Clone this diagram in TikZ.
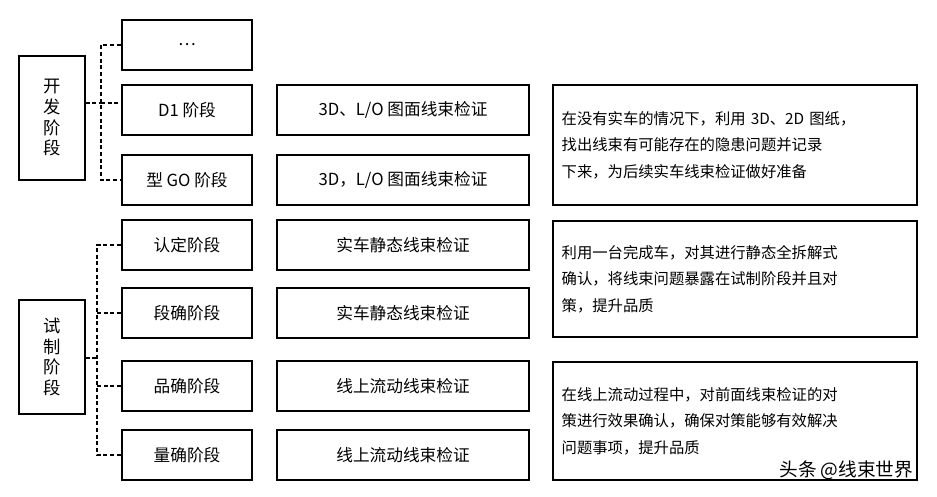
\documentclass[tikz,border=0pt]{standalone}
\usepackage{fontspec}
\setmainfont{Noto Sans CJK SC}
\begin{document}
\begin{tikzpicture}[x=0.75pt,y=-0.75pt,
  bx/.style={draw,line width=1.6pt,minimum height=37pt,inner sep=2pt,font=\fontsize{12.5}{14}\selectfont},
  mid/.style={bx,minimum width=98pt},
  col/.style={bx,minimum width=189pt},
  side/.style={draw,line width=1.6pt,minimum width=49pt,align=center,font=\fontsize{13}{15.5}\selectfont},
  note/.style={draw,line width=1.6pt,minimum width=273pt,text width=260pt,align=left,font=\fontsize{11.5}{20}\selectfont},
  ln/.style={line width=0.8pt,densely dashed}]
\useasboundingbox (0,0) rectangle (937,496);
\node[side,minimum height=93pt] (kf) at (52,118) {开\\发\\阶\\段};
\node[side,minimum height=86pt] (sz) at (52,357) {试\\制\\阶\\段};
\node[mid] (m0) at (187,45) {…};
\node[mid] (m1) at (187,110) {D1 阶段};
\node[mid] (m2) at (187,180) {型 GO 阶段};
\node[mid] (m3) at (187,245) {认定阶段};
\node[mid] (m4) at (187,313) {段确阶段};
\node[mid] (m5) at (187,386) {品确阶段};
\node[mid] (m6) at (187,455) {量确阶段};
\node[col] (c1) at (403,110) {3D、L/O 图面线束检证};
\node[col] (c2) at (403,180) {3D，L/O 图面线束检证};
\node[col] (c3) at (403,245) {实车静态线束检证};
\node[col] (c4) at (403,313) {实车静态线束检证};
\node[col] (c5) at (403,386) {线上流动线束检证};
\node[col] (c6) at (403,455) {线上流动线束检证};
\node[note,minimum height=90pt] (n1) at (735,145) {在没有实车的情况下，利用 3D、2D 图纸，\\找出线束有可能存在的隐患问题并记录\\下来，为后续实车线束检证做好准备};
\node[note,minimum height=87pt] (n2) at (735,279) {利用一台完成车，对其进行静态全拆解式\\确认，将线束问题暴露在试制阶段并且对\\策，提升品质};
\node[note,minimum height=89pt] (n3) at (735,421) {在线上流动过程中，对前面线束检证的对\\策进行效果确认，确保对策能够有效解决\\问题事项，提升品质};
\coordinate (t1) at (101,103);
\coordinate (t2) at (97,358);
\draw[ln] (kf.east|-t1) -- (t1);
\draw[ln] (sz.east|-t2) -- (t2);
\draw[ln] (m0.west) -| (t1) |- (m2.west);
\draw[ln] (t1) -- (m1.west|-t1);
\draw[ln] (m3.west) -| (t2) |- (m6.west);
\draw[ln] (t2|-m4.west) -- (m4.west);
\draw[ln] (t2|-m5.west) -- (m5.west);
\node[font=\fontsize{14}{16}\selectfont,anchor=east] (wm) at (918,470) {头条 @线束世界};
\end{tikzpicture}
\end{document}
